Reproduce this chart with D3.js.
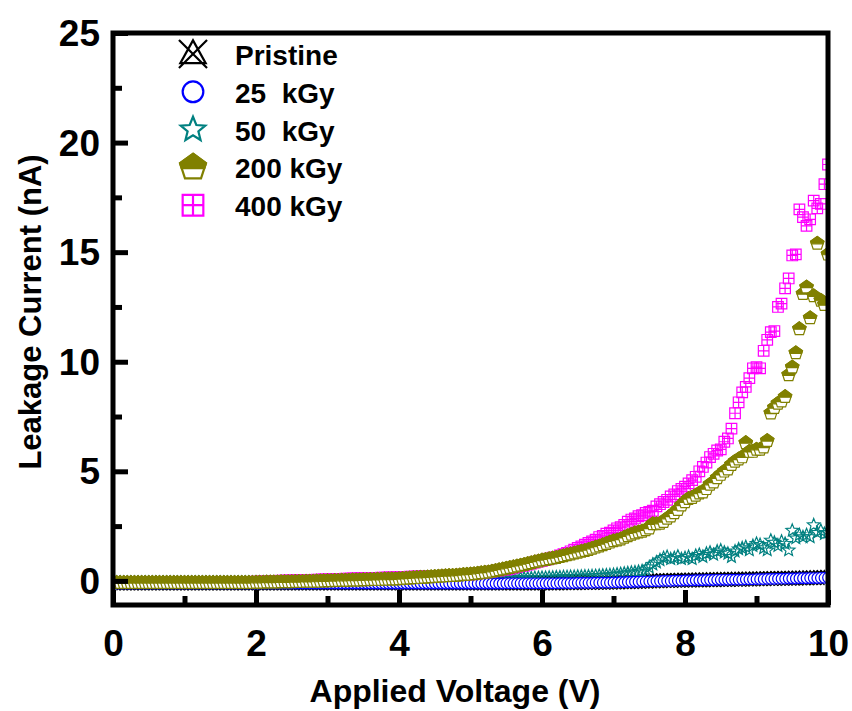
<!DOCTYPE html>
<html>
<head>
<meta charset="utf-8">
<script src="https://cdn.jsdelivr.net/npm/d3@7"></script>
<style>
  html, body { margin: 0; padding: 0; background: #fff; }
  svg text { font-family: "Liberation Sans", Arial, sans-serif; font-weight: bold; fill: #000; }
</style>
</head>
<body>
<svg id="chart" width="852" height="711"></svg>
<script>
// Voltage sweep: 0 to 10 V in 0.05 V steps
const voltage = d3.range(0, 201).map(i => +(i * 0.05).toFixed(2));

// Leakage current (nA), one value per voltage step
const pristine = [
  -0.10,-0.10,-0.10,-0.10,-0.10,-0.10,-0.10,-0.10,-0.10,-0.10,
  -0.10,-0.10,-0.10,-0.10,-0.10,-0.10,-0.10,-0.10,-0.10,-0.10,
  -0.10,-0.10,-0.10,-0.10,-0.10,-0.10,-0.10,-0.10,-0.10,-0.10,
  -0.10,-0.10,-0.10,-0.10,-0.10,-0.10,-0.10,-0.10,-0.10,-0.10,
  -0.10,-0.10,-0.10,-0.10,-0.10,-0.10,-0.10,-0.10,-0.10,-0.10,
  -0.10,-0.10,-0.10,-0.10,-0.10,-0.10,-0.10,-0.10,-0.10,-0.10,
  -0.10,-0.10,-0.10,-0.10,-0.10,-0.10,-0.10,-0.10,-0.10,-0.10,
  -0.10,-0.10,-0.10,-0.10,-0.10,-0.10,-0.10,-0.10,-0.10,-0.10,
  -0.10,-0.10,-0.10,-0.10,-0.10,-0.10,-0.10,-0.10,-0.10,-0.10,
  -0.10,-0.10,-0.10,-0.10,-0.10,-0.10,-0.10,-0.10,-0.10,-0.10,
  -0.10,-0.10,-0.10,-0.10,-0.10,-0.10,-0.10,-0.10,-0.10,-0.10,
  -0.10,-0.10,-0.10,-0.10,-0.10,-0.10,-0.10,-0.10,-0.10,-0.10,
  -0.10,-0.10,-0.10,-0.10,-0.10,-0.09,-0.09,-0.09,-0.09,-0.09,
  -0.08,-0.08,-0.08,-0.08,-0.08,-0.07,-0.07,-0.07,-0.07,-0.07,
  -0.06,-0.06,-0.05,-0.05,-0.04,-0.04,-0.03,-0.03,-0.02,-0.02,
  -0.01,-0.01,0.00,0.00,0.01,0.01,0.01,0.02,0.02,0.02,
  0.03,0.03,0.03,0.04,0.04,0.04,0.05,0.05,0.05,0.06,
  0.06,0.06,0.06,0.07,0.07,0.07,0.07,0.08,0.08,0.08,
  0.09,0.09,0.09,0.10,0.10,0.10,0.11,0.11,0.11,0.12,
  0.12,0.12,0.13,0.13,0.13,0.14,0.14,0.14,0.15,0.15,
  0.16
];

const kGy25 = [
  -0.12,-0.12,-0.12,-0.12,-0.12,-0.12,-0.12,-0.12,-0.12,-0.12,
  -0.12,-0.12,-0.12,-0.12,-0.12,-0.12,-0.12,-0.12,-0.12,-0.12,
  -0.12,-0.12,-0.12,-0.12,-0.12,-0.12,-0.12,-0.12,-0.12,-0.12,
  -0.12,-0.12,-0.12,-0.12,-0.12,-0.12,-0.12,-0.12,-0.12,-0.12,
  -0.12,-0.12,-0.12,-0.12,-0.12,-0.12,-0.12,-0.12,-0.12,-0.12,
  -0.12,-0.12,-0.12,-0.12,-0.12,-0.12,-0.12,-0.12,-0.12,-0.12,
  -0.12,-0.12,-0.12,-0.12,-0.12,-0.12,-0.12,-0.12,-0.12,-0.12,
  -0.12,-0.12,-0.12,-0.12,-0.12,-0.12,-0.12,-0.12,-0.12,-0.12,
  -0.12,-0.12,-0.12,-0.12,-0.12,-0.12,-0.12,-0.12,-0.12,-0.12,
  -0.12,-0.12,-0.12,-0.12,-0.12,-0.12,-0.12,-0.12,-0.12,-0.12,
  -0.12,-0.12,-0.12,-0.12,-0.12,-0.12,-0.12,-0.12,-0.12,-0.12,
  -0.11,-0.11,-0.11,-0.11,-0.11,-0.11,-0.11,-0.11,-0.11,-0.11,
  -0.11,-0.11,-0.11,-0.11,-0.11,-0.10,-0.10,-0.10,-0.10,-0.10,
  -0.09,-0.09,-0.09,-0.09,-0.09,-0.08,-0.08,-0.08,-0.08,-0.08,
  -0.07,-0.07,-0.06,-0.06,-0.05,-0.05,-0.04,-0.04,-0.03,-0.03,
  -0.02,-0.02,-0.01,-0.01,0.00,0.00,0.00,0.01,0.01,0.01,
  0.02,0.02,0.02,0.03,0.03,0.03,0.04,0.04,0.04,0.05,
  0.05,0.05,0.05,0.06,0.06,0.06,0.06,0.07,0.07,0.07,
  0.08,0.08,0.08,0.09,0.09,0.09,0.10,0.10,0.10,0.11,
  0.11,0.11,0.12,0.12,0.12,0.13,0.13,0.13,0.14,0.14,
  0.15
];

const kGy50 = [
  -0.08,-0.08,-0.08,-0.08,-0.08,-0.08,-0.08,-0.08,-0.08,-0.08,
  -0.08,-0.08,-0.08,-0.08,-0.08,-0.08,-0.08,-0.08,-0.08,-0.08,
  -0.08,-0.08,-0.08,-0.08,-0.08,-0.08,-0.08,-0.08,-0.08,-0.08,
  -0.08,-0.08,-0.08,-0.08,-0.08,-0.08,-0.08,-0.08,-0.08,-0.08,
  -0.08,-0.08,-0.08,-0.08,-0.08,-0.08,-0.08,-0.08,-0.08,-0.08,
  -0.08,-0.08,-0.08,-0.08,-0.08,-0.08,-0.08,-0.08,-0.08,-0.08,
  -0.07,-0.07,-0.07,-0.06,-0.06,-0.06,-0.05,-0.05,-0.05,-0.04,
  -0.04,-0.04,-0.03,-0.03,-0.03,-0.02,-0.02,-0.02,-0.01,-0.01,
  0.00,0.00,0.00,0.01,0.01,0.01,0.02,0.02,0.02,0.03,
  0.03,0.03,0.04,0.04,0.04,0.05,0.05,0.05,0.06,0.06,
  0.06,0.07,0.07,0.08,0.08,0.08,0.09,0.09,0.10,0.10,
  0.10,0.11,0.11,0.12,0.12,0.12,0.13,0.13,0.14,0.14,
  0.15,0.15,0.16,0.16,0.17,0.17,0.18,0.18,0.19,0.19,
  0.20,0.20,0.21,0.21,0.22,0.23,0.24,0.25,0.26,0.27,
  0.28,0.30,0.32,0.34,0.36,0.38,0.40,0.42,0.45,0.50,
  0.62,0.75,0.85,0.95,1.05,1.10,1.00,1.05,1.12,1.00,
  1.05,1.10,1.00,1.15,1.20,1.10,1.25,1.30,1.20,1.35,
  1.40,1.30,1.25,1.10,1.35,1.45,1.50,1.55,1.40,1.60,
  1.70,1.65,1.50,1.40,1.85,1.75,1.60,1.80,1.70,1.40,
  2.30,1.95,2.10,2.00,2.10,2.00,2.55,2.20,2.30,2.15,
  2.20
];

const kGy200 = [
  -0.08,-0.08,-0.08,-0.08,-0.08,-0.08,-0.08,-0.08,-0.08,-0.08,
  -0.08,-0.08,-0.08,-0.08,-0.08,-0.08,-0.08,-0.08,-0.08,-0.08,
  -0.08,-0.08,-0.08,-0.08,-0.08,-0.08,-0.08,-0.08,-0.08,-0.08,
  -0.08,-0.08,-0.08,-0.08,-0.08,-0.08,-0.08,-0.08,-0.08,-0.08,
  -0.07,-0.07,-0.07,-0.06,-0.06,-0.06,-0.06,-0.05,-0.05,-0.05,
  -0.05,-0.04,-0.04,-0.04,-0.03,-0.03,-0.03,-0.02,-0.02,-0.01,
  0.00,0.00,0.01,0.01,0.02,0.02,0.02,0.03,0.03,0.03,
  0.04,0.04,0.05,0.05,0.06,0.06,0.07,0.07,0.08,0.08,
  0.09,0.10,0.11,0.12,0.13,0.14,0.15,0.16,0.17,0.18,
  0.19,0.20,0.21,0.22,0.23,0.24,0.25,0.26,0.28,0.29,
  0.30,0.32,0.34,0.36,0.38,0.40,0.43,0.46,0.50,0.53,
  0.57,0.60,0.63,0.67,0.70,0.74,0.78,0.82,0.86,0.90,
  0.94,0.97,1.00,1.03,1.06,1.10,1.14,1.18,1.22,1.26,
  1.30,1.34,1.38,1.42,1.48,1.53,1.58,1.64,1.70,1.76,
  1.82,1.86,1.90,1.98,2.05,2.12,2.18,2.22,2.26,2.32,
  2.40,2.60,2.60,2.62,2.70,2.85,2.95,3.10,3.25,3.45,
  3.60,3.75,3.80,3.90,4.00,4.05,4.20,4.40,4.50,4.70,
  4.85,5.00,5.10,5.30,5.45,5.55,5.65,6.30,5.90,5.90,
  6.00,6.00,6.10,6.40,7.65,7.90,8.10,8.20,8.40,9.40,
  9.75,10.40,11.50,13.10,13.40,12.00,13.00,15.40,12.80,12.60,
  14.90
];

const kGy400 = [
  -0.06,-0.06,-0.06,-0.06,-0.06,-0.06,-0.06,-0.06,-0.06,-0.06,
  -0.06,-0.06,-0.06,-0.06,-0.06,-0.06,-0.06,-0.06,-0.06,-0.06,
  -0.06,-0.06,-0.06,-0.06,-0.06,-0.06,-0.06,-0.06,-0.06,-0.06,
  -0.06,-0.06,-0.06,-0.06,-0.06,-0.06,-0.06,-0.06,-0.06,-0.06,
  -0.04,-0.03,-0.02,-0.02,-0.01,0.00,0.00,0.01,0.01,0.02,
  0.02,0.03,0.03,0.04,0.04,0.05,0.05,0.06,0.06,0.07,
  0.07,0.08,0.08,0.09,0.09,0.10,0.10,0.11,0.11,0.12,
  0.12,0.13,0.13,0.14,0.14,0.15,0.15,0.16,0.16,0.17,
  0.17,0.18,0.18,0.19,0.19,0.20,0.20,0.21,0.21,0.22,
  0.22,0.23,0.23,0.24,0.24,0.25,0.26,0.27,0.28,0.29,
  0.30,0.32,0.34,0.36,0.38,0.40,0.42,0.45,0.47,0.50,
  0.52,0.55,0.59,0.63,0.67,0.70,0.74,0.79,0.84,0.88,
  0.92,0.96,1.01,1.06,1.10,1.16,1.22,1.28,1.35,1.42,
  1.50,1.57,1.65,1.73,1.80,1.88,2.00,2.05,2.15,2.20,
  2.30,2.40,2.45,2.55,2.70,2.80,2.85,2.95,3.00,3.10,
  3.15,3.20,3.40,3.50,3.60,3.70,3.85,3.95,4.10,4.20,
  4.30,4.45,4.60,4.75,5.00,5.20,5.40,5.65,5.80,5.95,
  6.00,6.35,6.50,6.95,7.65,8.15,8.60,8.85,9.25,9.70,
  9.75,9.70,10.50,11.00,11.35,11.40,12.50,12.65,13.35,13.80,
  14.85,14.90,16.95,16.60,16.20,16.50,17.35,17.00,17.20,18.10,
  19.00
];

const seriesLabels = ["Pristine", "25  kGy", "50  kGy", "200 kGy", "400 kGy"];
const xTickValues = [0, 2, 4, 6, 8, 10];
const xMinorValues = [1, 3, 5, 7, 9];
const yTickValues = [0, 5, 10, 15, 20, 25];
const yMinorValues = [2.5, 7.5, 12.5, 17.5, 22.5];

const svg = d3.select("#chart");
const box = { left: 113, right: 828, top: 33, bottom: 605 };

const x = d3.scaleLinear().domain([0, 10]).range([box.left, box.right]);
const y = d3.scaleLinear().domain([-1.1, 25]).range([box.bottom, box.top]);

// ---- marker shapes (k = scale factor; legend uses a larger k) ----
function pentagonPoints(R) {
  return d3.range(5).map(i => {
    const a = (-90 + i * 72) * Math.PI / 180;
    return [R * Math.cos(a), R * Math.sin(a)];
  });
}
function pentagonOutline(k) {
  const p = pentagonPoints(7 * k);
  return "M" + p.map(d => d.join(",")).join("L") + "Z";
}
function pentagonTop(k) {
  // upper half of the pentagon, cut at a horizontal line just below the centre
  const p = pentagonPoints(7 * k);
  const cut = 0.4 * k;
  const t = (cut - p[1][1]) / (p[2][1] - p[1][1]);
  const xc = p[1][0] + (p[2][0] - p[1][0]) * t;
  const pts = [p[0], p[1], [xc, cut], [-xc, cut], p[4]];
  return "M" + pts.map(d => d.join(",")).join("L") + "Z";
}
function starPath(k) {
  const R = 6.6 * k, r = 2.9 * k;
  const pts = d3.range(10).map(i => {
    const a = (-90 + i * 36) * Math.PI / 180;
    const rr = i % 2 === 0 ? R : r;
    return [rr * Math.cos(a), rr * Math.sin(a)];
  });
  return "M" + pts.map(d => d.join(",")).join("L") + "Z";
}
function squarePath(k) {
  const a = 5.3 * k;
  return `M${-a},${-a}H${a}V${a}H${-a}Z M0,${-a}V${a} M${-a},0H${a}`;
}
function pristinePath(k) {
  return `M0,${-7 * k}L${6.5 * k},${4.7 * k}L${-6.5 * k},${4.7 * k}Z` +
         `M${-7.2 * k},${-7.2 * k}L${7.2 * k},${7.2 * k}M${7.2 * k},${-7.2 * k}L${-7.2 * k},${7.2 * k}`;
}

const colors = { pristine: "#000000", k25: "#0000ff", k50: "#008080", k200: "#808000", k400: "#ff00ff" };

function drawMarker(g, key, k, sw) {
  if (key === "pristine") {
    g.append("path").attr("d", pristinePath(k)).attr("fill", "none")
      .attr("stroke", colors.pristine).attr("stroke-width", sw);
  } else if (key === "k25") {
    g.append("circle").attr("r", 5.3 * k).attr("fill", "#ffffff")
      .attr("stroke", colors.k25).attr("stroke-width", sw);
  } else if (key === "k50") {
    g.append("path").attr("d", starPath(k)).attr("fill", "none")
      .attr("stroke", colors.k50).attr("stroke-width", sw).attr("stroke-linejoin", "miter");
  } else if (key === "k200") {
    g.append("path").attr("d", pentagonOutline(k)).attr("fill", "#ffffff")
      .attr("stroke", colors.k200).attr("stroke-width", sw);
    g.append("path").attr("d", pentagonTop(k)).attr("fill", colors.k200)
      .attr("stroke", colors.k200).attr("stroke-width", sw);
  } else if (key === "k400") {
    g.append("path").attr("d", squarePath(k)).attr("fill", "none")
      .attr("stroke", colors.k400).attr("stroke-width", sw);
  }
}

// ---- clip region: inside of the frame ----
svg.append("defs").append("clipPath").attr("id", "plotClip")
  .append("rect")
  .attr("x", box.left).attr("y", box.top)
  .attr("width", box.right - box.left).attr("height", box.bottom - box.top);

const dataLayer = svg.append("g").attr("clip-path", "url(#plotClip)");

// drawing order: pristine at the back, 200 kGy at the front
const drawOrder = [
  { key: "pristine", values: pristine },
  { key: "k50", values: kGy50 },
  { key: "k25", values: kGy25 },
  { key: "k400", values: kGy400 },
  { key: "k200", values: kGy200 }
];

drawOrder.forEach(s => {
  const pts = voltage.map((v, i) => ({ v, c: s.values[i] }));
  const grp = dataLayer.append("g").attr("class", "series-" + s.key);
  grp.selectAll("g.pt").data(pts).join("g")
    .attr("class", "pt")
    .attr("transform", d => `translate(${x(d.v)},${y(d.c)})`)
    .each(function () { drawMarker(d3.select(this), s.key, 1, 1.2); });
});

// ---- axes (ticks point inward) ----
function styleAxis(g) {
  g.select(".domain").remove();
  g.attr("font-family", null).attr("font-size", null);
  g.selectAll(".tick line").attr("stroke", "#000").attr("stroke-width", 5);
}

const xAxisG = svg.append("g")
  .attr("transform", `translate(0,${box.bottom})`)
  .call(d3.axisBottom(x).tickValues(xTickValues).tickSize(-15).tickPadding(25).tickFormat(d3.format("d")))
  .call(styleAxis);
xAxisG.selectAll(".tick text").style("font-size", "37px");

svg.append("g")
  .attr("transform", `translate(0,${box.bottom})`)
  .call(d3.axisBottom(x).tickValues(xMinorValues).tickSize(-9).tickFormat(""))
  .call(styleAxis);

const yAxisG = svg.append("g")
  .attr("transform", `translate(${box.left},0)`)
  .call(d3.axisLeft(y).tickValues(yTickValues).tickSize(-15).tickPadding(13).tickFormat(d3.format("d")))
  .call(styleAxis);
yAxisG.selectAll(".tick text").style("font-size", "37px").attr("dy", "0.34em");

svg.append("g")
  .attr("transform", `translate(${box.left},0)`)
  .call(d3.axisLeft(y).tickValues(yMinorValues).tickSize(-9).tickFormat(""))
  .call(styleAxis);

// ---- frame ----
svg.append("rect")
  .attr("x", box.left).attr("y", box.top)
  .attr("width", box.right - box.left).attr("height", box.bottom - box.top)
  .attr("fill", "none").attr("stroke", "#000").attr("stroke-width", 5);

// ---- axis titles ----
svg.append("text")
  .attr("x", 455).attr("y", 702)
  .attr("text-anchor", "middle")
  .style("font-size", "32px")
  .text("Applied Voltage (V)");

svg.append("text")
  .attr("transform", "translate(41,312) rotate(-90)")
  .attr("text-anchor", "middle")
  .style("font-size", "31px")
  .text("Leakage Current (nA)");

// ---- legend ----
const legendKeys = ["pristine", "k25", "k50", "k200", "k400"];
const legend = svg.append("g");
legendKeys.forEach((key, i) => {
  const rowY = 54 + i * 37.8;
  const m = legend.append("g").attr("transform", `translate(193,${rowY})`);
  drawMarker(m, key, 1.95, 2.2);
  legend.append("text")
    .attr("x", 235).attr("y", rowY + 11)
    .style("font-size", "28px")
    .style("white-space", "pre")
    .attr("xml:space", "preserve")
    .text(seriesLabels[i]);
});
</script>
</body>
</html>
